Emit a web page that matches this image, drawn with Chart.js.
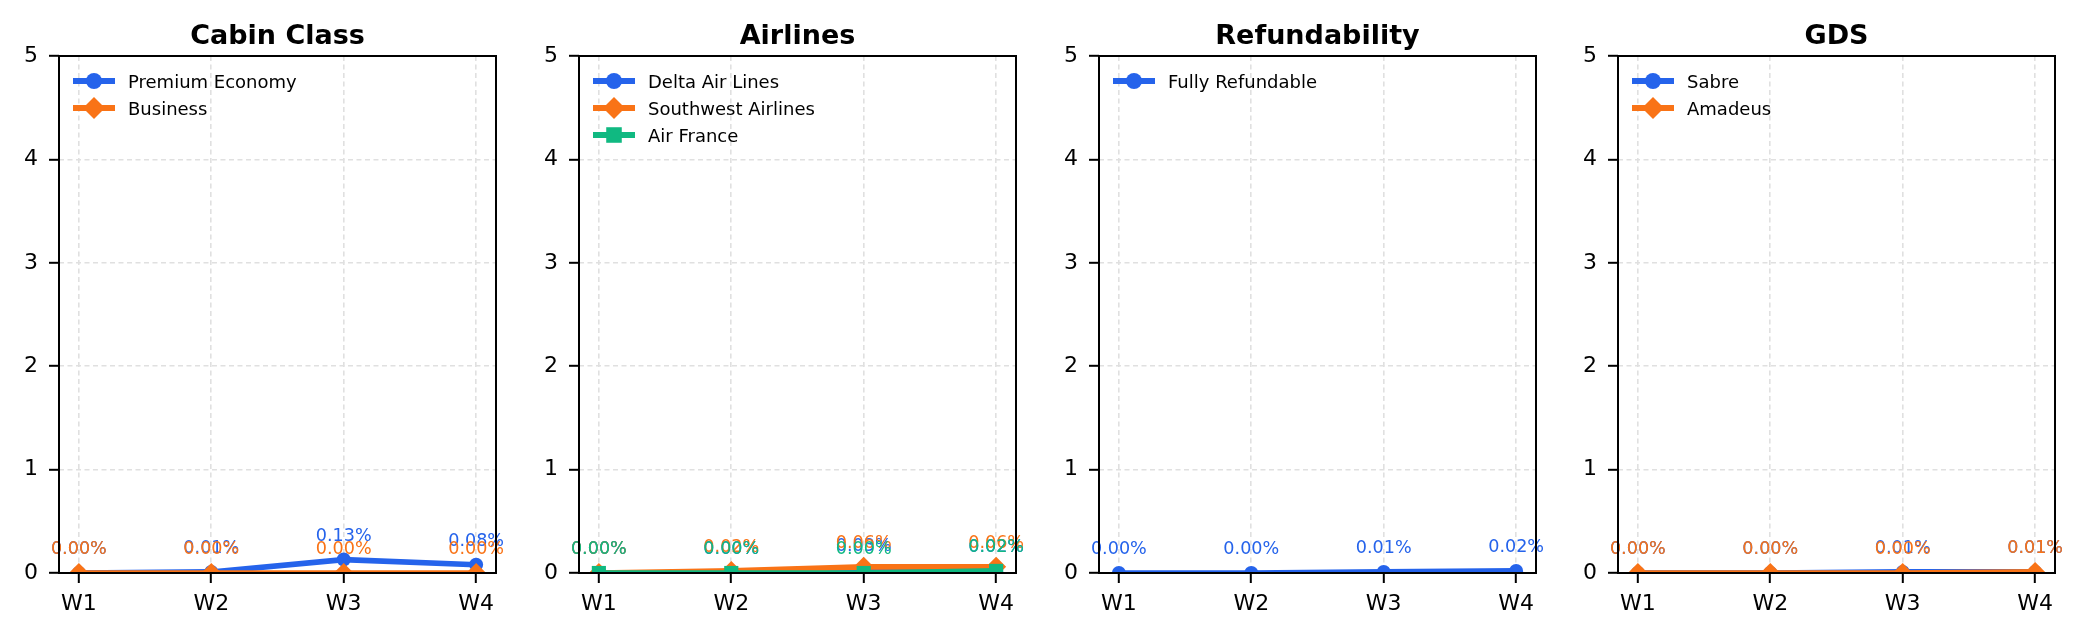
<!DOCTYPE html>
<html>
<head>
<meta charset="utf-8">
<script src="https://cdn.jsdelivr.net/npm/chart.js@4.4.1/dist/chart.umd.min.js"></script>
<style>
    body { margin: 0; background: #fff; }
    #wrap { position: relative; width: 2086px; height: 640px; }
    canvas { position: absolute; top: 0; }
</style>
</head>
<body>
<div id="wrap">
    <canvas id="chart-cabin" width="520" height="640" style="left:0px"></canvas>
    <canvas id="chart-airlines" width="520" height="640" style="left:520px"></canvas>
    <canvas id="chart-refund" width="520" height="640" style="left:1040px"></canvas>
    <canvas id="chart-gds" width="520" height="640" style="left:1559px"></canvas>
</div>
<script>

// values are percentages per week
let weeks = ['W1', 'W2', 'W3', 'W4'];
let yTicks = [0, 1, 2, 3, 4, 5];

let premiumEconomy = [0.00, 0.01, 0.13, 0.08];
let business = [0.00, 0.00, 0.00, 0.00];

let deltaAirLines = [0.00, 0.00, 0.03, 0.02];
let southwestAirlines = [0.00, 0.02, 0.06, 0.06];
let airFrance = [0.00, 0.00, 0.00, 0.02];

let fullyRefundable = [0.00, 0.00, 0.01, 0.02];

let sabre = [0.00, 0.00, 0.01, 0.01];
let amadeus = [0.00, 0.00, 0.00, 0.01];

let BLUE = '#2563eb';
let ORANGE = '#f97316';
let GREEN = '#10b981';
let FONT = '"DejaVu Sans", sans-serif';

function drawMarker(ctx, style, x, y, r) {
    ctx.beginPath();
    if (style === 'circle') {
        ctx.arc(x, y, r, 0, Math.PI * 2);
    } else if (style === 'rectRot') {
        ctx.moveTo(x, y - r);
        ctx.lineTo(x + r, y);
        ctx.lineTo(x, y + r);
        ctx.lineTo(x - r, y);
        ctx.closePath();
    } else {
        let h = r * Math.SQRT1_2;
        ctx.rect(x - h, y - h, h * 2, h * 2);
    }
    ctx.fill();
}

// value labels above every point
let valueLabels = {
    id: 'valueLabels',
    afterDatasetsDraw(chart) {
        let ctx = chart.ctx;
        ctx.save();
        ctx.font = '17.6px ' + FONT;
        ctx.textAlign = 'center';
        ctx.textBaseline = 'alphabetic';
        chart.data.datasets.forEach((ds, i) => {
            let meta = chart.getDatasetMeta(i);
            ctx.fillStyle = ds.borderColor;
            meta.data.forEach((pt, j) => {
                ctx.fillText(ds.data[j].y.toFixed(2) + '%', pt.x, pt.y - 19);
            });
        });
        ctx.restore();
    }
};

// box, title and legend (matplotlib style)
let frame = {
    id: 'frame',
    afterDraw(chart, args, opts) {
        let ctx = chart.ctx;
        let a = chart.chartArea;
        ctx.save();
        ctx.strokeStyle = '#000';
        ctx.lineWidth = 2;
        ctx.strokeRect(a.left, a.top, a.right - a.left, a.bottom - a.top);

        ctx.fillStyle = '#000';
        ctx.font = 'bold 27px ' + FONT;
        ctx.textAlign = 'center';
        ctx.fillText(opts.title, (a.left + a.right) / 2, a.top - 12);

        ctx.font = '18px ' + FONT;
        ctx.textAlign = 'left';
        chart.data.datasets.forEach((ds, i) => {
            let y = a.top + 25 + i * 27;
            ctx.strokeStyle = ds.borderColor;
            ctx.lineWidth = 6;
            ctx.beginPath();
            ctx.moveTo(a.left + 14, y);
            ctx.lineTo(a.left + 56, y);
            ctx.stroke();
            ctx.fillStyle = ds.borderColor;
            drawMarker(ctx, ds.pointStyle, a.left + 35, y, ds.pointRadius + 1);
            ctx.fillStyle = '#000';
            ctx.fillText(ds.label, a.left + 69, y + 6.5);
        });
        ctx.restore();
    }
};

function makeDataset(label, values, color, marker, index, count) {
    return {
        label: label,
        data: values.map((v, i) => ({ x: i, y: v })),
        borderColor: color,
        backgroundColor: color,
        borderWidth: 5.7,
        pointStyle: marker,
        pointRadius: marker === 'circle' ? 7 : 10,
        pointHoverRadius: marker === 'circle' ? 7 : 10,
        pointBorderWidth: 0,
        clip: 0,
        tension: 0,
        order: count - index
    };
}

function makeChart(canvasId, title, series) {
    let datasets = series.map((s, i) => makeDataset(s[0], s[1], s[2], s[3], i, series.length));
    let tickFont = { family: FONT, size: 22 };
    return new Chart(document.getElementById(canvasId), {
        type: 'line',
        data: { datasets: datasets },
        options: {
            responsive: false,
            animation: false,
            events: [],
            layout: { padding: { top: 56, right: 24, bottom: 0, left: 0 } },
            plugins: {
                legend: { display: false },
                tooltip: { enabled: false },
                frame: { title: title }
            },
            scales: {
                x: {
                    type: 'linear',
                    min: -0.15,
                    max: 3.15,
                    afterBuildTicks: (axis) => { axis.ticks = weeks.map((w, i) => ({ value: i })); },
                    afterFit: (axis) => { axis.height = 67; },
                    ticks: { callback: (v) => weeks[v], color: '#000', font: tickFont, padding: 8, maxRotation: 0 },
                    grid: { color: '#e0e0e0', lineWidth: 1.6, tickLength: 10, tickColor: '#000', tickWidth: 2 },
                    border: { display: false, dash: [5, 3.5] }
                },
                y: {
                    min: 0,
                    max: 5,
                    afterBuildTicks: (axis) => { axis.ticks = yTicks.map((v) => ({ value: v })); },
                    afterFit: (axis) => { axis.width = 59; },
                    ticks: { color: '#000', font: tickFont, padding: 11 },
                    grid: { color: '#e0e0e0', lineWidth: 1.6, tickLength: 10, tickColor: '#000', tickWidth: 2 },
                    border: { display: false, dash: [5, 3.5] }
                }
            }
        },
        plugins: [valueLabels, frame]
    });
}

makeChart('chart-cabin', 'Cabin Class', [
    ['Premium Economy', premiumEconomy, BLUE, 'circle'],
    ['Business', business, ORANGE, 'rectRot']
]);

makeChart('chart-airlines', 'Airlines', [
    ['Delta Air Lines', deltaAirLines, BLUE, 'circle'],
    ['Southwest Airlines', southwestAirlines, ORANGE, 'rectRot'],
    ['Air France', airFrance, GREEN, 'rect']
]);

makeChart('chart-refund', 'Refundability', [
    ['Fully Refundable', fullyRefundable, BLUE, 'circle']
]);

makeChart('chart-gds', 'GDS', [
    ['Sabre', sabre, BLUE, 'circle'],
    ['Amadeus', amadeus, ORANGE, 'rectRot']
]);

</script>
</body>
</html>
